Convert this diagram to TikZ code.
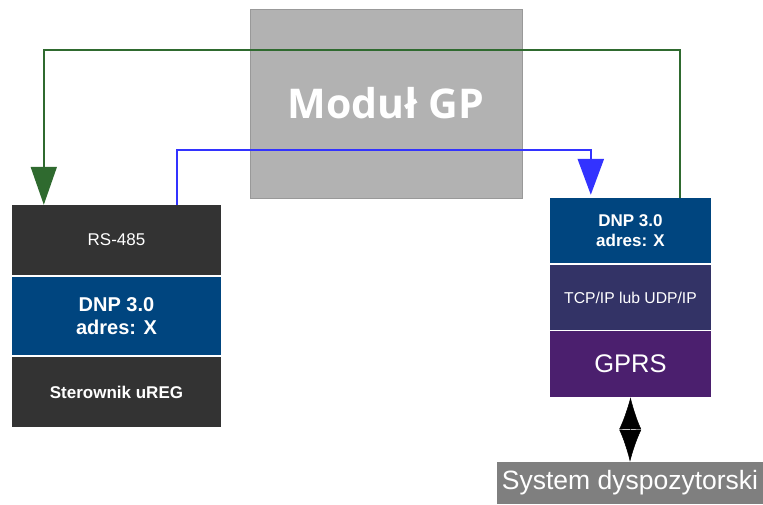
\documentclass[tikz,border=0pt]{standalone}
\usepackage{fontspec}
\setmainfont{Liberation Sans}
\newfontfamily\modfont{Open Sans}
\usetikzlibrary{arrows.meta}
\definecolor{ciemny}{HTML}{333333}
\definecolor{dnpblue}{HTML}{00457F}
\definecolor{tcpcol}{HTML}{333366}
\definecolor{gprscol}{HTML}{4B1F6E}
\definecolor{sysgray}{HTML}{7F7F7F}
\definecolor{modgray}{HTML}{B2B2B2}
\definecolor{zielony}{HTML}{2F6A2F}
\definecolor{niebieski}{HTML}{3333FF}
\tikzset{
  warstwa/.style={inner sep=0pt, text=white, align=center, font=\fontsize{17}{20}\selectfont},
  lewa/.style={warstwa, minimum width=209pt},
  prawa/.style={warstwa, minimum width=161pt},
}
\begin{document}
\begin{tikzpicture}[x=1pt,y=-1pt]
  \useasboundingbox (0,0) rectangle (763,504);

  % modul
  \node[fill=modgray, draw=black!40, line width=1pt, minimum width=272pt, minimum height=189pt,
        text=white, font=\modfont\bfseries\fontsize{41}{44}\selectfont] (mod) at (386,103.5) {Moduł GP};

  % lewy stos
  \node[lewa, fill=ciemny, minimum height=70pt] (rs) at (116.5,240) {RS-485};
  \node[lewa, fill=dnpblue, minimum height=78pt, font=\bfseries\fontsize{20}{23}\selectfont] (ldnp) at (116.5,316) {DNP 3.0\\adres: X};
  \node[lewa, fill=ciemny, minimum height=70pt, font=\bfseries\fontsize{17}{20}\selectfont] (ster) at (116.5,392) {Sterownik uREG};

  % prawy stos
  \node[prawa, fill=dnpblue, minimum height=65pt, font=\bfseries\fontsize{17}{20}\selectfont] (rdnp) at (630.5,230.5) {DNP 3.0\\adres: X};
  \node[prawa, fill=tcpcol, minimum height=65pt, font=\fontsize{15.7}{18}\selectfont] (tcp) at (630.5,297.5) {TCP/IP lub UDP/IP};
  \node[prawa, fill=gprscol, minimum height=66pt, font=\fontsize{25.5}{28}\selectfont] (gprs) at (630.5,364) {GPRS};

  \node[fill=sysgray, text=white, inner sep=0pt, minimum width=266pt, minimum height=42pt,
        font=\fontsize{26.5}{28}\selectfont] (sys) at (630,483) {System dyspozytorski};

  % polaczenia
  \draw[zielony, line width=1.8pt, -{Triangle[length=38pt,width=26pt]}]
    ([xshift=-31pt]rdnp.north east) -- ++(0,-148) -| ([xshift=32pt]rs.north west);
  \draw[niebieski, line width=2.5pt, -{Triangle[length=36pt,width=26pt]}, shorten >=3pt]
    ([xshift=165pt]rs.north west) -- ++(0,-55) -| ([xshift=41pt]rdnp.north west);
  \draw[black, line width=0.5pt, {Latex[length=32pt,width=22pt]}-{Latex[length=32pt,width=22pt]}]
    (gprs.south) -- (sys.north);
\end{tikzpicture}
\end{document}
